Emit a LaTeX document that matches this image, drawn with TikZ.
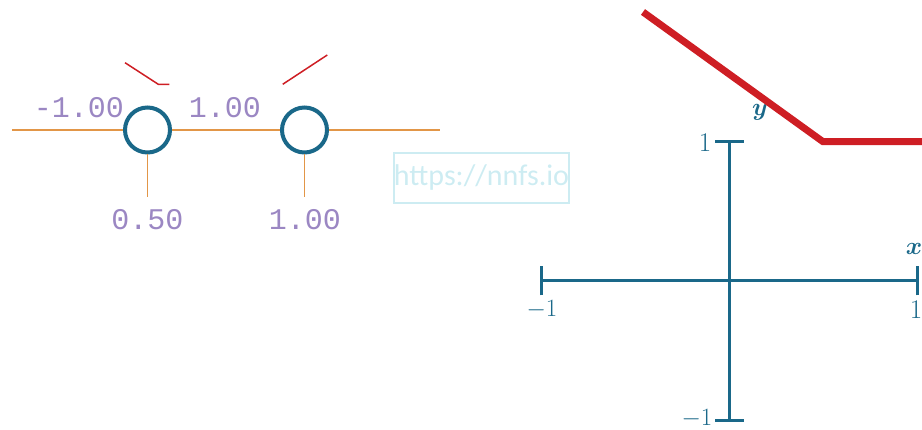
\documentclass[tikz,border=0pt]{standalone}
\usepackage{fontspec}
\usepackage{amsmath}
\newfontfamily\monof{Liberation Mono}
\newfontfamily\wmfont{Carlito}
\definecolor{orangeline}{RGB}{226,150,72}
\definecolor{tealc}{RGB}{26,104,137}
\definecolor{purplec}{RGB}{155,135,195}
\definecolor{redc}{RGB}{206,30,36}
\definecolor{wmc}{RGB}{205,236,242}
\begin{document}
\begin{tikzpicture}[x=1pt,y=-1pt,
  neuron/.style={circle,draw=tealc,line width=4pt,fill=white,minimum size=45pt,inner sep=0pt},
  wire/.style={draw=orangeline,line width=1.6pt},
  wlabel/.style={text=purplec,font=\monof\fontsize{30}{32}\selectfont,inner sep=0pt},
  axis/.style={draw=tealc,line width=3pt},
  alabel/.style={text=tealc,font=\fontsize{27}{29}\selectfont,inner sep=0pt},
  vlabel/.style={text=tealc,font=\fontsize{31}{33}\selectfont,inner sep=0pt},
  redthin/.style={draw=redc,line width=1.5pt},
  redthick/.style={draw=redc,line width=7pt}]
\useasboundingbox (0,0) rectangle (922,430);
% neurons
\node[neuron] (n1) at (147.5,130) {};
\node[neuron] (n2) at (304.5,130) {};
\coordinate (in) at (12,130);
\coordinate (out) at (440,130);
\coordinate (b1) at (147.5,197);
\coordinate (b2) at (304.5,197);
\draw[wire] (in) -- (n1.west);
\draw[wire] (n1.east) -- (n2.west);
\draw[wire] (n2.east) -- (out);
\draw[wire] (n1.south) -- (b1);
\draw[wire] (n2.south) -- (b2);
% labels
\node[wlabel] (l1) at (79,108) {-1.00};
\node[wlabel] (l2) at (225,108) {1.00};
\node[wlabel] (l3) at (147.5,220) {0.50};
\node[wlabel] (l4) at (305,220) {1.00};
% small red activation sketches
\draw[redthin] (125,62.7) -- (158.3,84.3) -- (169.3,84.3);
\draw[redthin] (282.7,84.3) -- (327.3,55);
% watermark
\node[draw=wmc,line width=1.5pt,minimum width=169pt,minimum height=50pt,inner sep=0pt,text=wmc,font=\wmfont\fontsize{30}{32}\selectfont] (wm) at (481.5,178) {https://nnfs.io};
% axes
\coordinate (xl) at (541,281);
\coordinate (xr) at (917.3,281);
\coordinate (yt) at (729.5,141.7);
\coordinate (yb) at (729.5,420.7);
\draw[axis] (xl) -- (xr);
\draw[axis] (yt) -- (yb);
\draw[axis] ([yshift=-14.5pt]xl) -- ([yshift=14.5pt]xl);
\draw[axis] ([yshift=-14.5pt]xr) -- ([yshift=14.5pt]xr);
\draw[axis] ([xshift=-14.5pt]yt) -- ([xshift=14.5pt]yt);
\draw[axis] ([xshift=-14.5pt]yb) -- ([xshift=14.5pt]yb);
\node[alabel] (t1) at (705,143) {1};
\node[alabel] (t2) at (697,419) {$-1$};
\node[alabel] (t3) at (542,310) {$-1$};
\node[alabel] (t4) at (916,310) {1};
\node[vlabel] (ylab) at (760,112) {$\boldsymbol{y}$};
\node[vlabel] (xlab) at (914,249) {$\boldsymbol{x}$};
% relu-like red curve
\draw[redthick] (643,12) -- (823,141.7) -- (922,141.7);
\end{tikzpicture}
\end{document}
